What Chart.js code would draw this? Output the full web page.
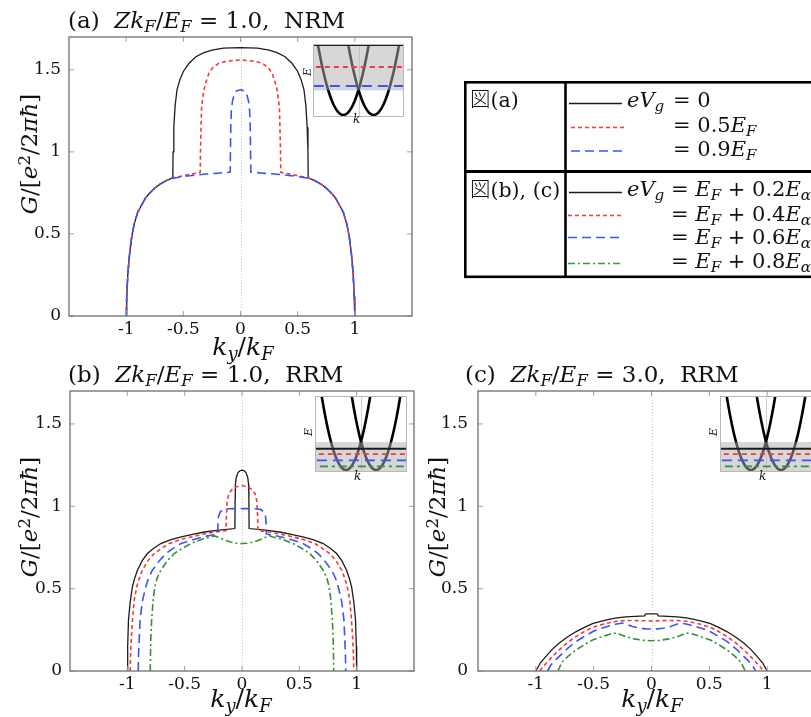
<!DOCTYPE html>
<html>
<head>
<meta charset="utf-8">
<script src="https://cdn.jsdelivr.net/npm/chart.js@4.4.1/dist/chart.umd.min.js"></script>
<style>
  html, body { margin: 0; padding: 0; width: 811px; height: 717px; overflow: hidden; background: #fff; position: relative; }
  canvas { position: absolute; }
  .txt { position: absolute; line-height: 1; white-space: nowrap; font-family: 'DejaVu Serif', 'Liberation Serif', serif; color: #111; }
  .sb { font-size: 0.72em; position: relative; top: 0.28em; }
  .sp { font-size: 0.72em; position: relative; top: -0.45em; }
  .cjk { font-family: 'Noto Sans CJK JP', sans-serif; font-weight: 300; }
  svg { position: absolute; left: 0; top: 0; }
</style>
</head>
<body>
<canvas id="chartA" style="left:0px;top:0px" width="430" height="360"></canvas>
<canvas id="chartB" style="left:0px;top:360px" width="420" height="357"></canvas>
<canvas id="chartC" style="left:420px;top:360px" width="420" height="357"></canvas>
<canvas id="insetA" style="left:313px;top:44px;background:#fff" width="91" height="73"></canvas>
<canvas id="insetB" style="left:315px;top:396px;background:#fff" width="92" height="76"></canvas>
<canvas id="insetC" style="left:720px;top:396px;background:#fff" width="92" height="76"></canvas>

<svg width="811" height="717">
  <rect x="465.3" y="82.3" width="400" height="194.5" fill="none" stroke="#000" stroke-width="2.6"/>
  <line x1="465" y1="171.5" x2="811" y2="171.5" stroke="#000" stroke-width="2.8"/>
  <line x1="565.5" y1="82" x2="565.5" y2="277" stroke="#000" stroke-width="2.6"/>
  <line x1="569" y1="103.5" x2="622" y2="103.5" stroke="#1c1c1c" stroke-width="1.3"/>
  <line x1="571" y1="127.5" x2="626" y2="127.5" stroke="#f23a3a" stroke-width="1.6" stroke-dasharray="4 3"/>
  <line x1="571" y1="151" x2="625" y2="151" stroke="#3d55f0" stroke-width="1.6" stroke-dasharray="9 5"/>
  <line x1="569" y1="192.5" x2="622" y2="192.5" stroke="#1c1c1c" stroke-width="1.3"/>
  <line x1="568" y1="215.5" x2="624" y2="215.5" stroke="#f23a3a" stroke-width="1.6" stroke-dasharray="4 3"/>
  <line x1="568" y1="237.5" x2="622" y2="237.5" stroke="#3d55f0" stroke-width="1.6" stroke-dasharray="9 5"/>
  <line x1="568" y1="263.5" x2="622" y2="263.5" stroke="#2fa040" stroke-width="1.6" stroke-dasharray="7 3 2 3"/>
</svg>

<script>
// ---- panel (a): NRM, Zk_F/E_F = 1.0 ----
const aBlackK = [-1, -0.995, -0.985, -0.97, -0.95, -0.93, -0.9, -0.87, -0.83, -0.8, -0.75, -0.7, -0.65, -0.592, -0.59, -0.583, -0.572, -0.555, -0.53, -0.5, -0.45, -0.39, -0.32, -0.25, -0.15, 0, 0.15, 0.25, 0.32, 0.39, 0.45, 0.5, 0.53, 0.555, 0.572, 0.583, 0.59, 0.592, 0.65, 0.7, 0.75, 0.8, 0.83, 0.87, 0.9, 0.93, 0.95, 0.97, 0.985, 0.995, 1];
const aBlackG = [0, 0.12, 0.26, 0.38, 0.49, 0.56, 0.63, 0.67, 0.72, 0.745, 0.78, 0.805, 0.825, 0.842, 1.0, 1.15, 1.28, 1.38, 1.44, 1.49, 1.54, 1.58, 1.605, 1.62, 1.632, 1.635, 1.632, 1.62, 1.605, 1.58, 1.54, 1.49, 1.44, 1.38, 1.28, 1.15, 1.0, 0.842, 0.825, 0.805, 0.78, 0.745, 0.72, 0.67, 0.63, 0.56, 0.49, 0.38, 0.26, 0.12, 0];
const aRedK = [-1, -0.995, -0.985, -0.97, -0.95, -0.93, -0.9, -0.87, -0.83, -0.8, -0.75, -0.7, -0.65, -0.6, -0.5, -0.42, -0.352, -0.35, -0.345, -0.34, -0.32, -0.3, -0.276, -0.24, -0.19, -0.12, 0, 0.12, 0.19, 0.24, 0.276, 0.3, 0.32, 0.34, 0.345, 0.35, 0.352, 0.42, 0.5, 0.6, 0.65, 0.7, 0.75, 0.8, 0.83, 0.87, 0.9, 0.93, 0.95, 0.97, 0.985, 0.995, 1];
const aRedG = [0, 0.12, 0.26, 0.38, 0.49, 0.56, 0.63, 0.67, 0.72, 0.745, 0.78, 0.805, 0.825, 0.84, 0.855, 0.866, 0.875, 1.0, 1.15, 1.276, 1.378, 1.43, 1.48, 1.515, 1.54, 1.553, 1.56, 1.553, 1.54, 1.515, 1.48, 1.43, 1.378, 1.276, 1.15, 1.0, 0.875, 0.866, 0.855, 0.84, 0.825, 0.805, 0.78, 0.745, 0.72, 0.67, 0.63, 0.56, 0.49, 0.38, 0.26, 0.12, 0];
const aBlueK = [-1, -0.995, -0.985, -0.97, -0.95, -0.93, -0.9, -0.87, -0.83, -0.8, -0.75, -0.7, -0.65, -0.6, -0.5, -0.4, -0.3, -0.2, -0.09, -0.088, -0.085, -0.08, -0.07, -0.055, -0.035, 0, 0.035, 0.055, 0.07, 0.08, 0.085, 0.088, 0.09, 0.2, 0.3, 0.4, 0.5, 0.6, 0.65, 0.7, 0.75, 0.8, 0.83, 0.87, 0.9, 0.93, 0.95, 0.97, 0.985, 0.995, 1];
const aBlueG = [0, 0.12, 0.26, 0.38, 0.49, 0.56, 0.63, 0.67, 0.72, 0.745, 0.78, 0.805, 0.825, 0.838, 0.85, 0.858, 0.865, 0.87, 0.877, 1.0, 1.15, 1.25, 1.31, 1.35, 1.372, 1.378, 1.372, 1.35, 1.31, 1.25, 1.15, 1.0, 0.877, 0.87, 0.865, 0.858, 0.85, 0.838, 0.825, 0.805, 0.78, 0.745, 0.72, 0.67, 0.63, 0.56, 0.49, 0.38, 0.26, 0.12, 0];

// ---- panel (b): RRM, Zk_F/E_F = 1.0 ----
const bBlackK = [-1, -0.997, -0.99, -0.975, -0.956, -0.935, -0.912, -0.87, -0.825, -0.77, -0.708, -0.62, -0.53, -0.43, -0.328, -0.2, -0.062, -0.06, -0.058, -0.05, -0.035, -0.018, 0, 0.018, 0.035, 0.05, 0.058, 0.06, 0.062, 0.2, 0.328, 0.43, 0.53, 0.62, 0.708, 0.77, 0.825, 0.87, 0.912, 0.935, 0.956, 0.975, 0.99, 0.997, 1];
const bBlackG = [0, 0.15, 0.31, 0.42, 0.51, 0.565, 0.612, 0.67, 0.713, 0.745, 0.774, 0.797, 0.814, 0.83, 0.844, 0.855, 0.865, 1.05, 1.13, 1.175, 1.205, 1.216, 1.22, 1.216, 1.205, 1.175, 1.13, 1.05, 0.865, 0.855, 0.844, 0.83, 0.814, 0.797, 0.774, 0.745, 0.713, 0.67, 0.612, 0.565, 0.51, 0.42, 0.31, 0.15, 0];
const bRedK = [-0.975, -0.972, -0.965, -0.955, -0.94, -0.918, -0.895, -0.869, -0.82, -0.766, -0.7, -0.635, -0.55, -0.445, -0.34, -0.241, -0.14, -0.135, -0.13, -0.115, -0.09, -0.06, -0.03, 0, 0.03, 0.06, 0.09, 0.115, 0.13, 0.135, 0.14, 0.241, 0.34, 0.445, 0.55, 0.635, 0.7, 0.766, 0.82, 0.869, 0.895, 0.918, 0.94, 0.955, 0.965, 0.972, 0.975];
const bRedG = [0, 0.1, 0.2, 0.31, 0.43, 0.511, 0.565, 0.612, 0.67, 0.713, 0.745, 0.774, 0.795, 0.814, 0.83, 0.844, 0.852, 0.96, 1.03, 1.075, 1.1, 1.115, 1.122, 1.125, 1.122, 1.115, 1.1, 1.075, 1.03, 0.96, 0.852, 0.844, 0.83, 0.814, 0.795, 0.774, 0.745, 0.713, 0.67, 0.612, 0.565, 0.511, 0.43, 0.31, 0.2, 0.1, 0];
const bBlueK = [-0.905, -0.902, -0.896, -0.889, -0.87, -0.839, -0.815, -0.781, -0.72, -0.664, -0.6, -0.532, -0.44, -0.343, -0.27, -0.212, -0.21, -0.205, -0.19, -0.165, -0.12, -0.06, 0, 0.06, 0.12, 0.165, 0.19, 0.205, 0.21, 0.212, 0.27, 0.343, 0.44, 0.532, 0.6, 0.664, 0.72, 0.781, 0.815, 0.839, 0.87, 0.889, 0.896, 0.902, 0.905];
const bBlueG = [0, 0.1, 0.2, 0.309, 0.42, 0.511, 0.565, 0.612, 0.67, 0.713, 0.745, 0.774, 0.795, 0.814, 0.824, 0.832, 0.9, 0.94, 0.965, 0.98, 0.985, 0.986, 0.986, 0.986, 0.985, 0.98, 0.965, 0.94, 0.9, 0.832, 0.824, 0.814, 0.795, 0.774, 0.745, 0.713, 0.67, 0.612, 0.565, 0.511, 0.42, 0.309, 0.2, 0.1, 0];
const bGreenK = [-0.8, -0.798, -0.795, -0.788, -0.775, -0.76, -0.74, -0.708, -0.65, -0.591, -0.52, -0.445, -0.35, -0.27, -0.24, -0.2, -0.15, -0.1, -0.05, 0, 0.05, 0.1, 0.15, 0.2, 0.24, 0.27, 0.35, 0.445, 0.52, 0.591, 0.65, 0.708, 0.74, 0.76, 0.775, 0.788, 0.795, 0.798, 0.8];
const bGreenG = [0, 0.1, 0.2, 0.309, 0.43, 0.511, 0.565, 0.612, 0.67, 0.713, 0.745, 0.774, 0.8, 0.814, 0.82, 0.81, 0.795, 0.783, 0.776, 0.774, 0.776, 0.783, 0.795, 0.81, 0.82, 0.814, 0.8, 0.774, 0.745, 0.713, 0.67, 0.612, 0.565, 0.511, 0.43, 0.309, 0.2, 0.1, 0];

// ---- panel (c): RRM, Zk_F/E_F = 3.0 ----
const cBlackK = [-1, -0.96, -0.914, -0.86, -0.8, -0.73, -0.655, -0.58, -0.51, -0.44, -0.367, -0.3, -0.223, -0.14, -0.058, -0.055, -0.045, 0, 0.045, 0.055, 0.058, 0.14, 0.223, 0.3, 0.367, 0.44, 0.51, 0.58, 0.655, 0.73, 0.8, 0.86, 0.914, 0.96, 1];
const cBlackG = [0, 0.05, 0.087, 0.13, 0.168, 0.205, 0.238, 0.265, 0.287, 0.302, 0.314, 0.322, 0.328, 0.332, 0.334, 0.343, 0.347, 0.347, 0.347, 0.343, 0.334, 0.332, 0.328, 0.322, 0.314, 0.302, 0.287, 0.265, 0.238, 0.205, 0.168, 0.13, 0.087, 0.05, 0];
const cRedK = [-0.965, -0.94, -0.9, -0.85, -0.8, -0.73, -0.655, -0.58, -0.51, -0.44, -0.367, -0.3, -0.223, -0.15, -0.07, 0, 0.07, 0.15, 0.223, 0.3, 0.367, 0.44, 0.51, 0.58, 0.655, 0.73, 0.8, 0.85, 0.9, 0.94, 0.965];
const cRedG = [0, 0.025, 0.055, 0.093, 0.127, 0.17, 0.208, 0.24, 0.265, 0.28, 0.293, 0.302, 0.307, 0.307, 0.305, 0.304, 0.305, 0.307, 0.307, 0.302, 0.293, 0.28, 0.265, 0.24, 0.208, 0.17, 0.127, 0.093, 0.055, 0.025, 0];
const cBlueK = [-0.9, -0.87, -0.84, -0.8, -0.73, -0.655, -0.58, -0.51, -0.44, -0.367, -0.3, -0.25, -0.2, -0.165, -0.1, -0.05, 0, 0.05, 0.1, 0.165, 0.2, 0.25, 0.3, 0.367, 0.44, 0.51, 0.58, 0.655, 0.73, 0.8, 0.84, 0.87, 0.9];
const cBlueG = [0, 0.036, 0.06, 0.087, 0.135, 0.178, 0.21, 0.238, 0.258, 0.273, 0.285, 0.291, 0.28, 0.27, 0.26, 0.256, 0.255, 0.256, 0.26, 0.27, 0.28, 0.291, 0.285, 0.273, 0.258, 0.238, 0.21, 0.178, 0.135, 0.087, 0.06, 0.036, 0];
const cGreenK = [-0.81, -0.79, -0.77, -0.72, -0.655, -0.58, -0.51, -0.42, -0.34, -0.3, -0.27, -0.223, -0.15, -0.07, 0, 0.07, 0.15, 0.223, 0.27, 0.3, 0.34, 0.42, 0.51, 0.58, 0.655, 0.72, 0.77, 0.79, 0.81];
const cGreenG = [0, 0.03, 0.056, 0.09, 0.127, 0.16, 0.188, 0.21, 0.228, 0.23, 0.222, 0.208, 0.195, 0.186, 0.184, 0.186, 0.195, 0.208, 0.222, 0.23, 0.228, 0.21, 0.188, 0.16, 0.127, 0.09, 0.056, 0.03, 0];

// axis ticks
const kTicks = [-1, -0.5, 0, 0.5, 1];
const gTicks = [0, 0.5, 1, 1.5];

// ---- insets: band sketch E(k) ----
const parabLeftK = [-1.4, -1.3, -1.2, -1.1, -1.0, -0.9, -0.8, -0.7, -0.6, -0.5, -0.4, -0.3, -0.2, -0.1, 0, 0.1, 0.2, 0.3, 0.4];
const parabRightK = [-0.4, -0.3, -0.2, -0.1, 0, 0.1, 0.2, 0.3, 0.4, 0.5, 0.6, 0.7, 0.8, 0.9, 1.0, 1.1, 1.2, 1.3, 1.4];
const parabE = [3.24, 2.56, 1.96, 1.44, 1.0, 0.64, 0.36, 0.16, 0.04, 0, 0.04, 0.16, 0.36, 0.64, 1.0, 1.44, 1.96, 2.56, 3.24];
const insetALevels = [2.8, 1.92, 1.16];          // eVg = 0, 0.5E_F, 0.9E_F
const insetBCLevels = [0.75, 0.56, 0.34, 0.13];  // eVg = E_F + 0.2..0.8 E_alpha
const insetAShade = 1.0;
const insetBCShade = 0.97;

const LINE = {
  black: { color: '#1c1c1c', width: 1.3, dash: [], order: 4 },
  red:   { color: '#f23a3a', width: 1.6, dash: [4, 3], order: 3 },
  blue:  { color: '#3d55f0', width: 1.6, dash: [9, 5], order: 2 },
  green: { color: '#33913a', width: 1.6, dash: [7, 3, 2, 3], order: 1 }
};
const TICK_FONT = { family: "'DejaVu Serif', 'Liberation Serif', serif", size: 17 };

const frameTicks = {
  id: 'frameTicks',
  beforeDatasetsDraw(chart) {
    const { ctx, chartArea: a, scales: { x } } = chart;
    const x0 = Math.round(x.getPixelForValue(0)) + 0.5;
    ctx.save();
    ctx.strokeStyle = '#c4c4c4';
    ctx.lineWidth = 1;
    ctx.setLineDash([1, 2]);
    ctx.beginPath();
    ctx.moveTo(x0, a.top);
    ctx.lineTo(x0, a.bottom);
    ctx.stroke();
    ctx.restore();
  },
  afterDatasetsDraw(chart) {
    const { ctx, chartArea: a, scales: { x, y } } = chart;
    ctx.save();
    ctx.strokeStyle = '#a0a0a0';
    ctx.lineWidth = 1;
    ctx.beginPath();
    x.ticks.forEach(t => {
      const p = x.getPixelForValue(t.value);
      ctx.moveTo(p, a.bottom); ctx.lineTo(p, a.bottom - 5);
      ctx.moveTo(p, a.top); ctx.lineTo(p, a.top + 5);
    });
    y.ticks.forEach(t => {
      const p = y.getPixelForValue(t.value);
      ctx.moveTo(a.left, p); ctx.lineTo(a.left + 5, p);
      ctx.moveTo(a.right, p); ctx.lineTo(a.right - 5, p);
    });
    ctx.stroke();
    ctx.strokeStyle = '#6e6e6e';
    ctx.lineWidth = 1.3;
    ctx.strokeRect(a.left, a.top, a.right - a.left, a.bottom - a.top);
    ctx.restore();
  }
};

function series(k, g, style) {
  return {
    data: k.map((v, i) => ({ x: v, y: g[i] })),
    borderColor: style.color,
    borderWidth: style.width,
    borderDash: style.dash,
    order: style.order,
    pointRadius: 0,
    tension: 0,
    fill: false
  };
}

function makePanel(id, yWidth, padTop, padRight, xHeight, yPad, datasets) {
  return new Chart(document.getElementById(id), {
    type: 'line',
    data: { datasets },
    options: {
      responsive: false,
      animation: false,
      events: [],
      layout: { padding: { left: 0, top: padTop, right: padRight, bottom: 0 } },
      plugins: { legend: { display: false }, tooltip: { enabled: false } },
      scales: {
        x: {
          type: 'linear', min: -1.5, max: 1.5,
          grid: { display: false, drawTicks: false }, border: { display: false },
          afterBuildTicks: s => { s.ticks = kTicks.map(v => ({ value: v })); },
          afterFit: s => { s.height = xHeight; },
          ticks: { font: TICK_FONT, color: '#111', padding: 3, maxRotation: 0, autoSkip: false, callback: v => String(v) }
        },
        y: {
          type: 'linear', min: 0, max: 1.7,
          grid: { display: false, drawTicks: false }, border: { display: false },
          afterBuildTicks: s => { s.ticks = gTicks.map(v => ({ value: v })); },
          afterFit: s => { s.width = yWidth; },
          ticks: { font: TICK_FONT, color: '#111', padding: yPad, callback: v => String(v) }
        }
      }
    },
    plugins: [frameTicks]
  });
}

makePanel('chartA', 69, 37, 18, 44, 8, [
  series(aBlackK, aBlackG, LINE.black),
  series(aRedK, aRedG, LINE.red),
  series(aBlueK, aBlueG, LINE.blue)
]);
makePanel('chartB', 70, 31, 6, 46, 8, [
  series(bBlackK, bBlackG, LINE.black),
  series(bRedK, bRedG, LINE.red),
  series(bBlueK, bBlueG, LINE.blue),
  series(bGreenK, bGreenG, LINE.green)
]);
makePanel('chartC', 58, 31, 15, 46, 10, [
  series(cBlackK, cBlackG, LINE.black),
  series(cRedK, cRedG, LINE.red),
  series(cBlueK, cBlueG, LINE.blue),
  series(cGreenK, cGreenG, LINE.green)
]);

// ---- inset charts ----
const insetDeco = {
  id: 'insetDeco',
  beforeDatasetsDraw(chart) {
    const { ctx, chartArea: a, scales: { x } } = chart;
    const x0 = Math.round(x.getPixelForValue(0)) + 0.5;
    ctx.save();
    ctx.strokeStyle = '#d0d0d0';
    ctx.lineWidth = 1;
    ctx.beginPath();
    ctx.moveTo(x0, a.top);
    ctx.lineTo(x0, a.bottom);
    ctx.stroke();
    ctx.restore();
  },
  afterDraw(chart) {
    const { ctx, chartArea: a } = chart;
    ctx.save();
    ctx.strokeStyle = '#b8b8b8';
    ctx.lineWidth = 1;
    ctx.strokeRect(a.left + 0.5, a.top + 0.5, a.right - a.left - 1, a.bottom - a.top - 1);
    ctx.restore();
  }
};

function makeInset(id, kSpan, eMin, eMax, levels, shadeLevel, shadeFill) {
  const styles = [LINE.black, LINE.red, LINE.blue, LINE.green];
  const levelSets = levels.map((lv, i) => ({
    data: [{ x: -2, y: lv }, { x: 2, y: lv }],
    borderColor: styles[i].color,
    borderWidth: 1.8,
    borderDash: styles[i].dash.length ? styles[i].dash.map(d => d + 1) : [],
    pointRadius: 0, order: 1, fill: false
  }));
  const shade = {
    data: [{ x: -2, y: shadeLevel }, { x: 2, y: shadeLevel }],
    borderColor: 'rgba(150,150,150,0.5)', borderWidth: 0.8, borderDash: [1, 1],
    backgroundColor: 'rgba(175,175,175,0.5)',
    pointRadius: 0, order: 5, fill: shadeFill
  };
  const parab = k => ({
    data: k.map((v, i) => ({ x: v, y: parabE[i] })),
    borderColor: '#000', borderWidth: 2.6,
    pointRadius: 0, tension: 0.35, order: 10, fill: false
  });
  return new Chart(document.getElementById(id), {
    type: 'line',
    data: { datasets: [...levelSets, shade, parab(parabLeftK), parab(parabRightK)] },
    options: {
      responsive: false, animation: false, events: [],
      layout: { padding: 0 },
      plugins: { legend: { display: false }, tooltip: { enabled: false } },
      scales: {
        x: { type: 'linear', min: -kSpan, max: kSpan, display: false },
        y: { type: 'linear', min: eMin, max: eMax, display: false }
      }
    },
    plugins: [insetDeco]
  });
}

makeInset('insetA', 1.5, -0.08, 2.84, insetALevels, insetAShade, 'end');
makeInset('insetB', 1.53, -0.07, 2.61, insetBCLevels, insetBCShade, 'start');
makeInset('insetC', 1.53, -0.07, 2.61, insetBCLevels, insetBCShade, 'start');

// ---- text overlays ----
function addText(html, x, base, size, extra) {
  const d = document.createElement('div');
  d.className = 'txt';
  d.innerHTML = html;
  d.style.fontSize = size + 'px';
  d.style.left = x + 'px';
  d.style.top = (base - 0.88 * size) + 'px';
  if (extra) Object.assign(d.style, extra);
  document.body.appendChild(d);
  return d;
}
function addRotated(html, cx, cy, size) {
  const d = document.createElement('div');
  d.className = 'txt';
  d.innerHTML = html;
  d.style.fontSize = size + 'px';
  d.style.left = cx + 'px';
  d.style.top = cy + 'px';
  d.style.transform = 'translate(-50%,-50%) rotate(-90deg)';
  document.body.appendChild(d);
}

const zk = '<i>Zk<span class="sb">F</span></i>/<i>E<span class="sb">F</span></i>';
addText('(a)&nbsp; ' + zk + ' = 1.0,&nbsp; NRM', 68, 29, 23);
addText('(b)&nbsp; ' + zk + ' = 1.0,&nbsp; RRM', 68, 383, 23);
addText('(c)&nbsp; ' + zk + ' = 3.0,&nbsp; RRM', 465, 383, 23);

const gLabel = '<i>G</i>/[<i>e</i><span class="sp">2</span>/2<i>π</i><i>ħ</i>]';
addRotated(gLabel, 29, 154, 23);
addRotated(gLabel, 29, 517, 23);
addRotated(gLabel, 437, 517, 23);

const kLabel = '<i>k<span class="sb">y</span></i>/<i>k<span class="sb">F</span></i>';
addText(kLabel, 243, 356, 25, { transform: 'translateX(-50%)' });
addText(kLabel, 241, 708, 25, { transform: 'translateX(-50%)' });
addText(kLabel, 652, 708, 25, { transform: 'translateX(-50%)' });

// inset axis letters
[[307, 72], [308, 432], [713, 432]].forEach(p => addRotated('<i>E</i>', p[0], p[1], 11));
addText('<i>k</i>', 353, 124, 12);
addText('<i>k</i>', 354, 481, 12);
addText('<i>k</i>', 759, 481, 12);

// legend table text
addText('<span class="cjk">図</span>(a)', 470, 106, 20.5);
addText('<span class="cjk">図</span>(b), (c)', 470, 196, 20.5);
const eF = '<i>E<span class="sb">F</span></i>';
const eA = '<i>E<span class="sb">α</span></i>';
const eVg = '<i>eV<span class="sb">g</span></i>';
addText(eVg, 627, 108, 21);
addText('= 0', 673, 108, 21);
addText('= 0.5' + eF, 673, 133, 21);
addText('= 0.9' + eF, 673, 157, 21);
addText(eVg, 627, 197, 21);
addText('= ' + eF + ' + 0.2' + eA, 671, 197, 21);
addText('= ' + eF + ' + 0.4' + eA, 671, 222, 21);
addText('= ' + eF + ' + 0.6' + eA, 671, 245, 21);
addText('= ' + eF + ' + 0.8' + eA, 671, 269, 21);
</script>
</body>
</html>
